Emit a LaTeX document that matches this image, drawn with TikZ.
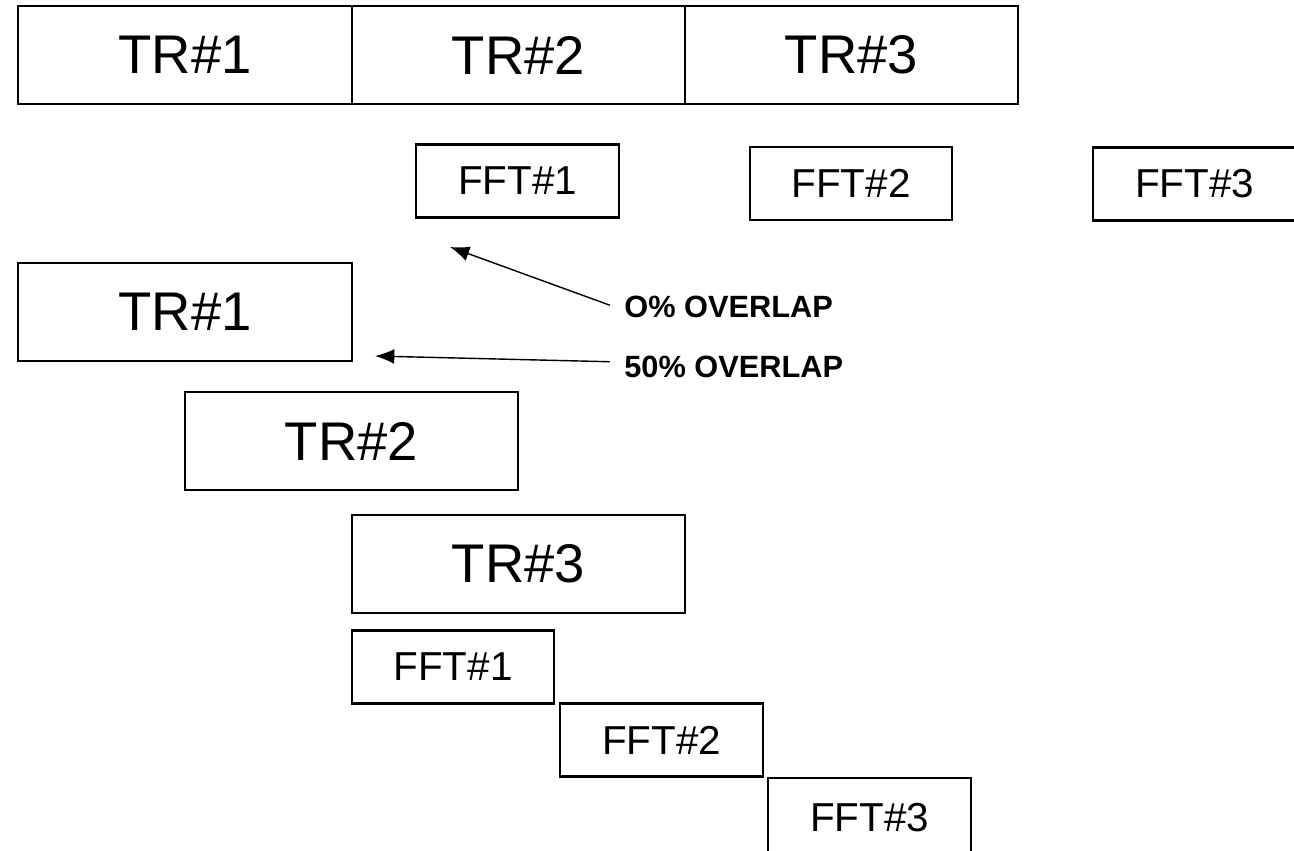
\documentclass[tikz,border=0pt]{standalone}
\usepackage{fontspec}
\setmainfont{Liberation Sans}
\usetikzlibrary{arrows.meta}
\tikzset{
  trbox/.style={draw, line width=1.2pt, inner sep=0pt, minimum width=6.67cm, minimum height=1.95cm, font=\fontsize{31}{36}\selectfont},
  fftbox/.style={draw, line width=1.2pt, inner sep=0pt, minimum width=4.05cm, minimum height=1.46cm, font=\fontsize{23}{27}\selectfont},
  overlap/.style={anchor=west, inner sep=0pt, font=\bfseries\fontsize{17.5}{20}\selectfont},
  pointer/.style={-{Latex[length=11pt,width=8.5pt]}, line width=0.8pt}
}
\begin{document}
\begin{tikzpicture}[x=0.02cm, y=-0.02cm]
        \useasboundingbox (0,0) rectangle (1294,850);
        % blocs sans recouvrement
        \node[trbox] (toptr1) at (185,55) {TR\#1};
        \node[trbox] (toptr2) at (518.5,55) {TR\#2};
        \node[trbox] (toptr3) at (851.5,55) {TR\#3};
        \node[fftbox] (topfft1) at (517.5,181) {FFT\#1};
        \node[fftbox] (topfft2) at (851,183.5) {FFT\#2};
        \node[fftbox] (topfft3) at (1194.5,184) {FFT\#3};
        % blocs avec 50% de recouvrement
        \node[trbox] (lowtr1) at (185,312) {TR\#1};
        \node[trbox] (lowtr2) at (351.5,441) {TR\#2};
        \node[trbox] (lowtr3) at (518.5,564) {TR\#3};
        \node[fftbox] (lowfft1) at (453,667) {FFT\#1};
        \node[fftbox] (lowfft2) at (661.5,740) {FFT\#2};
        \node[fftbox, minimum height=1.6cm] (lowfft3) at (869.5,818) {FFT\#3};
        % legendes
        \node[overlap] (lblzero) at (624,307) {O\% OVERLAP};
        \node[overlap] (lblhalf) at (624,367) {50\% OVERLAP};
        \coordinate (tipzero) at (450,247);
        \coordinate (tiphalf) at (375,356);
        \draw[pointer] ([xshift=-8pt,yshift=1pt]lblzero.west) -- (tipzero);
        \draw[pointer] ([xshift=-8pt,yshift=3pt]lblhalf.west) -- (tiphalf);
    \end{tikzpicture}
\end{document}
